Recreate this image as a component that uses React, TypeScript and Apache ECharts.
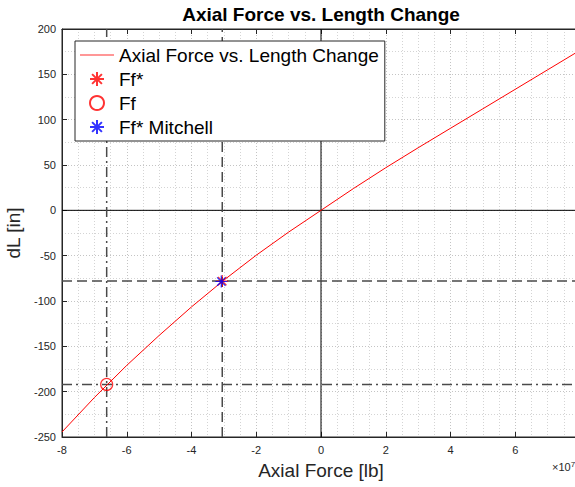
import React, { useEffect, useRef } from "react";
import * as echarts from "echarts";

// Axial force [lb] and length change [in]
const forceLb = [-8e7, -7e7, -6e7, -5e7, -4e7, -3e7, -2e7, -1e7, 0, 1e7, 2e7, 3e7, 4e7, 5e7, 6e7, 7e7, 8e7];
const dLin = [-244.5, -206.5, -171, -138, -106.5, -77, -49.5, -24, 0, 24, 47, 69, 90.5, 112, 133.5, 155, 176.5];

const ffStar = [-3.05e7, -78];
const ff = [-6.62e7, -192];
const ffStarMitchell = [-3.08e7, -78.5];

const xMin = -8e7;
const xMax = 8e7;
const xInterval = 2e7;
const yMin = -250;
const yMax = 200;
const yInterval = 50;
const xScale = 1e7;

const titleText = "Axial Force vs. Length Change";
const xName = "Axial Force [lb]";
const yName = "dL [in]";
const seriesNames = ["Axial Force vs. Length Change", "Ff*", "Ff", "Ff* Mitchell"];

const FONT = "'Liberation Sans', Arial, Helvetica, sans-serif";
const AX = "#262626";
const ASTERISK = "path://M10,0L10,20M0,10L20,10M3,3L17,17M3,17L17,3";
const LINE_ICON = "path://M0,0L34,0L34,1.1L0,1.1Z";

export default function App() {
  const ref = useRef<HTMLDivElement>(null);
  useEffect(() => {
    if (!ref.current) return;
    const chart = echarts.init(ref.current, null, { renderer: "svg" });
    const curve = forceLb.map((x, i) => [x, dLin[i]]);
    const refLine = (name: string, data: number[][], type: any, color: string, width: number) => ({
      name,
      type: "line",
      data,
      symbol: "none",
      silent: true,
      lineStyle: { color, width, type },
      z: 3,
    });
    const gridCommon = {
      splitLine: { show: true, lineStyle: { color: "#c4c4c4", type: [1, 2], width: 1 } },
      minorSplitLine: { show: true, lineStyle: { color: "#d4d4d4", type: [1, 2], width: 1 } },
    };
    chart.setOption({
      animation: false,
      textStyle: { fontFamily: FONT },
      grid: {
        left: 62, top: 29, right: 5, bottom: 50,
        containLabel: false, outerBoundsMode: "none",
        show: true, borderColor: AX, borderWidth: 1, backgroundColor: "#fff",
      },
      xAxis: [
        {
          type: "value",
          min: xMin,
          max: xMax,
          interval: xInterval,
          position: "bottom",
          name: xName,
          nameLocation: "middle",
          nameGap: 24,
          nameTextStyle: { fontSize: 19, color: AX, fontFamily: FONT },
          axisLine: { show: true, onZero: false, lineStyle: { color: AX } },
          axisTick: { show: true, inside: true, length: 5, lineStyle: { color: AX } },
          axisLabel: { fontSize: 11, color: AX, margin: 7, fontFamily: FONT, showMaxLabel: false, formatter: (v: number) => String(Math.round(v / xScale)) },
          minorTick: { show: false, splitNumber: 4 },
          ...gridCommon,
        },
        {
          type: "value",
          min: xMin,
          max: xMax,
          interval: xInterval,
          position: "top",
          axisLine: { show: true, onZero: false, lineStyle: { color: AX } },
          axisTick: { show: true, inside: true, length: 5, lineStyle: { color: AX } },
          axisLabel: { show: false },
          splitLine: { show: false },
        },
      ],
      yAxis: [
        {
          type: "value",
          min: yMin,
          max: yMax,
          interval: yInterval,
          position: "left",
          name: yName,
          nameLocation: "middle",
          nameGap: 30,
          nameTextStyle: { fontSize: 19, color: AX, fontFamily: FONT },
          axisLine: { show: true, onZero: false, lineStyle: { color: AX } },
          axisTick: { show: true, inside: true, length: 5, lineStyle: { color: AX } },
          axisLabel: { fontSize: 11, color: AX, margin: 6, fontFamily: FONT },
          minorTick: { show: false, splitNumber: 2 },
          ...gridCommon,
        },
        {
          type: "value",
          min: yMin,
          max: yMax,
          interval: yInterval,
          position: "right",
          axisLine: { show: true, onZero: false, lineStyle: { color: AX } },
          axisTick: { show: true, inside: true, length: 5, lineStyle: { color: AX } },
          axisLabel: { show: false },
          splitLine: { show: false },
        },
      ],
      legend: {
        data: [
          { name: seriesNames[0], icon: LINE_ICON, itemStyle: { color: "#ff3030" } },
          { name: seriesNames[1] },
          { name: seriesNames[2] },
          { name: seriesNames[3] },
        ],
        orient: "vertical",
        left: 75,
        top: 41,
        padding: [4, 6, 4, 5],
        itemWidth: 34,
        itemHeight: 14,
        itemGap: 4,
        backgroundColor: "#fff",
        borderColor: AX,
        borderWidth: 1,
        borderRadius: 0,
        textStyle: { fontSize: 19, lineHeight: 20, color: "#000", fontFamily: FONT },
        selectedMode: false,
        z: 10,
      },
      graphic: [
        {
          type: "text",
          x: 321,
          y: 14,
          style: { text: titleText, fill: "#000", font: `bold 19px ${FONT}`, textAlign: "center", textVerticalAlign: "middle" },
        },
        {
          type: "text",
          x: 552,
          y: 467,
          style: {
            text: "×10{s|7}",
            font: `11px ${FONT}`,
            fill: AX,
            textVerticalAlign: "middle",
            rich: { s: { fontSize: 8, fontFamily: FONT, verticalAlign: "top", padding: [0, 0, 6, 0] } },
          },
        },
      ],
      series: [
        refLine("zeroV", [[0, yMin], [0, yMax]], "solid", "#000", 1),
        refLine("zeroH", [[xMin, 0], [xMax, 0]], "solid", "#000", 1),
        refLine("ffStarV", [[ffStar[0], yMin], [ffStar[0], yMax]], [10, 5], "#4a4a4a", 1.5),
        refLine("ffStarH", [[xMin, ffStar[1]], [xMax, ffStar[1]]], [10, 5], "#4a4a4a", 1.5),
        refLine("ffV", [[ff[0], yMin], [ff[0], yMax]], [10, 4, 2, 4], "#4a4a4a", 1.5),
        refLine("ffH", [[xMin, ff[1]], [xMax, ff[1]]], [10, 4, 2, 4], "#4a4a4a", 1.5),
        {
          name: seriesNames[0],
          type: "line",
          data: curve,
          symbol: "none",
          showSymbol: false,
          lineStyle: { color: "#ff0000", width: 1 },
          itemStyle: { color: "#ff0000" },
          z: 4,
        },
        {
          name: seriesNames[1],
          type: "scatter",
          data: [ffStar],
          symbol: ASTERISK,
          symbolSize: 12,
          itemStyle: { color: "rgba(0,0,0,0)", borderColor: "#ff0000", borderWidth: 1.2 },
          z: 5,
        },
        {
          name: seriesNames[2],
          type: "scatter",
          data: [ff],
          symbol: "circle",
          symbolSize: 12,
          itemStyle: { color: "rgba(0,0,0,0)", borderColor: "#ff0000", borderWidth: 1.2 },
          z: 5,
        },
        {
          name: seriesNames[3],
          type: "scatter",
          data: [ffStarMitchell],
          symbol: ASTERISK,
          symbolSize: 12,
          itemStyle: { color: "rgba(0,0,0,0)", borderColor: "#0000ff", borderWidth: 1.2 },
          z: 6,
        },
      ],
    });
    return () => chart.dispose();
  }, []);
  return (
    <div style={{ position: "absolute", left: 0, top: 0, width: 575, height: 487, overflow: "hidden", background: "#fff" }}>
      <div ref={ref} style={{ width: 585, height: 487 }} />
    </div>
  );
}
